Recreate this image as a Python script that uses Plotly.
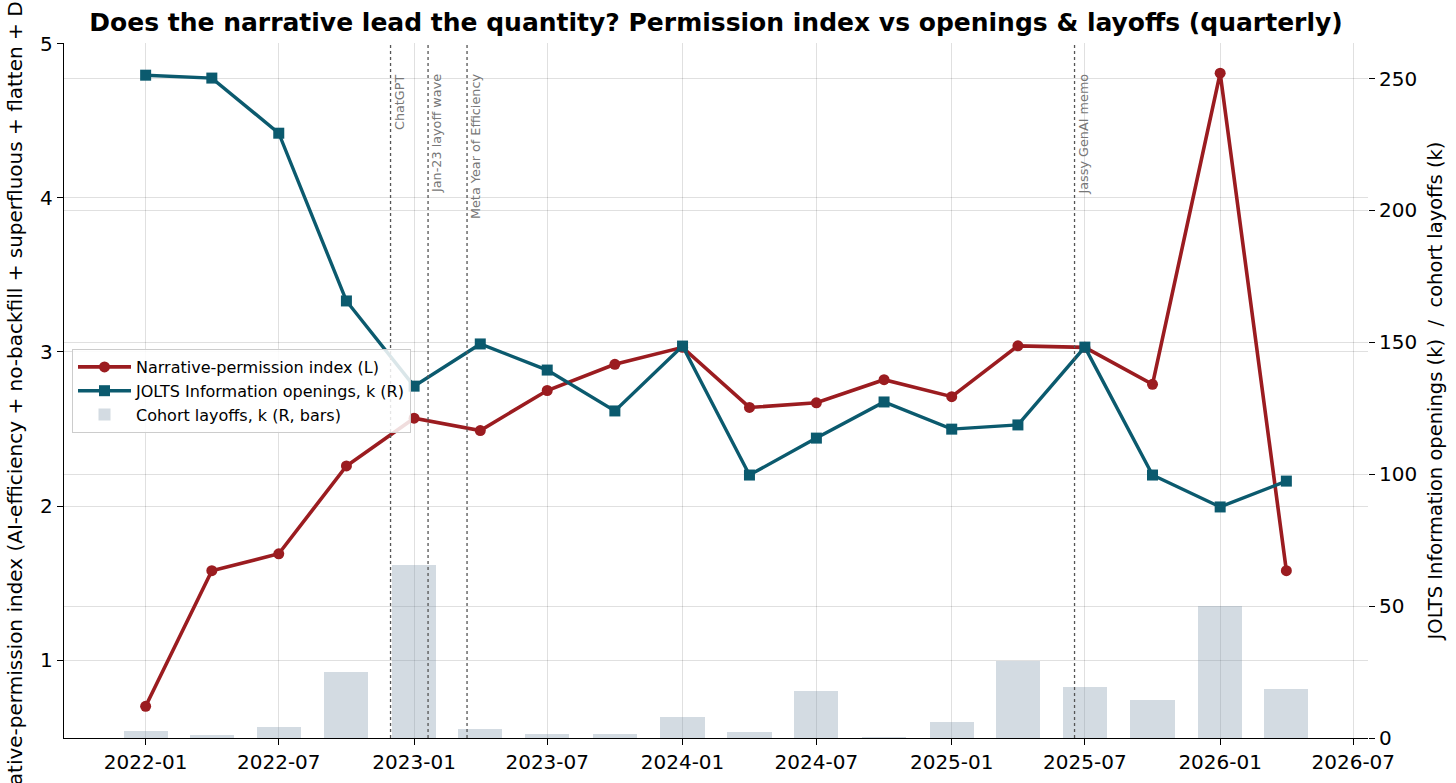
import plotly.graph_objects as go

# ---- data ----
quarters = ["2022-01-01", "2022-04-01", "2022-07-01", "2022-10-01",
            "2023-01-01", "2023-04-01", "2023-07-01", "2023-10-01",
            "2024-01-01", "2024-04-01", "2024-07-01", "2024-10-01",
            "2025-01-01", "2025-04-01", "2025-07-01", "2025-10-01",
            "2026-01-01", "2026-04-01"]
permission_index = [0.70, 1.58, 1.69, 2.26, 2.57, 2.49, 2.75, 2.92, 3.03,
                    2.64, 2.67, 2.82, 2.71, 3.04, 3.03, 2.79, 4.81, 1.58]
jolts_openings = [251.3, 250.2, 229.3, 165.7, 133.4, 149.4, 139.5, 124.0, 148.6,
                  99.7, 113.7, 127.4, 117.1, 118.7, 148.2, 99.7, 87.6, 97.4]
cohort_layoffs = [2.6, 1.0, 4.2, 25.2, 65.5, 3.6, 1.4, 1.4, 7.8,
                  2.2, 17.8, 0.3, 6.0, 29.1, 19.2, 14.5, 50.0, 18.5]
event_dates = ["2022-11-30", "2023-01-20", "2023-03-14", "2025-06-17"]
event_labels = ["ChatGPT", "Jan-23 layoff wave", "Meta Year of Efficiency", "Jassy GenAI memo"]
x_ticks = ["2022-01-01", "2022-07-01", "2023-01-01", "2023-07-01", "2024-01-01",
           "2024-07-01", "2025-01-01", "2025-07-01", "2026-01-01", "2026-07-01"]
left_ticks = [1, 2, 3, 4, 5]
right_ticks = [0, 50, 100, 150, 200, 250]
left_title = "Narrative-permission index (AI-efficiency + no-backfill + superfluous + flatten + DM)"
right_title = "JOLTS Information openings (k)  /  cohort layoffs (k)"

RED = "#9b1c20"
TEAL = "#0b5a6e"
FONT = "DejaVu Sans"
BAR_WIDTH_MS = 60 * 24 * 3600 * 1000

fig = go.Figure()

fig.add_trace(go.Bar(
    x=quarters, y=cohort_layoffs, yaxis="y2", width=BAR_WIDTH_MS,
    marker=dict(color="rgba(120,145,168,0.33)", line=dict(width=0)),
    name="Cohort layoffs, k (R, bars)", legendrank=3,
))
fig.add_trace(go.Scatter(
    x=quarters, y=permission_index, yaxis="y", mode="lines+markers",
    line=dict(color=RED, width=3.6), marker=dict(symbol="circle", size=11, color=RED),
    name="Narrative-permission index (L)", legendrank=1,
))
fig.add_trace(go.Scatter(
    x=quarters, y=jolts_openings, yaxis="y2", mode="lines+markers",
    line=dict(color=TEAL, width=3.4), marker=dict(symbol="square", size=11, color=TEAL),
    name="JOLTS Information openings, k (R)", legendrank=2,
))

shapes = []
annotations = []
for d, lab in zip(event_dates, event_labels):
    shapes.append(dict(type="line", xref="x", yref="y domain", x0=d, x1=d, y0=0, y1=1,
                       line=dict(color="#555555", width=1.3, dash="dot"), layer="above"))
    annotations.append(dict(x=d, xref="x", y=(738 - 72) / 695, yref="y domain",
                            text=lab, textangle=-90, showarrow=False,
                            xanchor="left", yanchor="top", xshift=-1,
                            font=dict(family=FONT, size=12.8, color="#777777")))

# left axis label (long; clipped by the figure edges like the original)
annotations.append(dict(text=left_title, textangle=-90, showarrow=False,
                        xref="paper", yref="paper", x=0, y=0.5,
                        xanchor="center", yanchor="middle", xshift=-50, yshift=-12,
                        font=dict(family=FONT, size=20, color="black")))

grid = "rgba(0,0,0,0.12)"
fig.update_layout(
    width=1456, height=783,
    margin=dict(l=64, r=88, t=43, b=45, autoexpand=False),
    paper_bgcolor="white", plot_bgcolor="white",
    font=dict(family=FONT, size=20, color="black"),
    title=dict(text="Does the narrative lead the quantity? Permission index vs openings & layoffs (quarterly)",
               x=0.5, xref="paper", xanchor="center", y=1 - 22 / 783, yref="container", yanchor="middle",
               font=dict(family=FONT, size=25, color="black", weight="bold")),
    xaxis=dict(type="date", range=["2021-09-12", "2026-07-21"], automargin=False,
               tickvals=x_ticks, tickformat="%Y-%m",
               showgrid=True, gridcolor=grid, gridwidth=1,
               showline=True, linecolor="black", linewidth=1.3,
               ticks="outside", ticklen=6, tickwidth=1.2, tickcolor="black",
               tickfont=dict(size=20), zeroline=False),
    yaxis=dict(range=[0.494, 5.006], tickvals=left_ticks, automargin=False,
               showgrid=True, gridcolor=grid, gridwidth=1,
               showline=True, linecolor="black", linewidth=1.3,
               ticks="outside", ticklen=6, tickwidth=1.2, tickcolor="black",
               tickfont=dict(size=20), zeroline=False),
    yaxis2=dict(range=[0, 263.5], tickvals=right_ticks, overlaying="y", side="right", automargin=False,
                showgrid=True, gridcolor=grid, gridwidth=1,
                showline=False,
                ticks="outside", ticklen=6, tickwidth=1.2, tickcolor="black",
                tickfont=dict(size=20), zeroline=False,
                title=dict(text=right_title, font=dict(size=19.5), standoff=12)),
    legend=dict(x=(72 - 64) / 1304, y=(738 - 349) / 695, xanchor="left", yanchor="top",
                bgcolor="rgba(255,255,255,0.85)", bordercolor="#cccccc", borderwidth=1,
                font=dict(size=16), traceorder="normal", itemwidth=53, tracegroupgap=0),
    shapes=shapes, annotations=annotations,
    bargap=0, showlegend=True,
)

fig.write_html("out.html")
